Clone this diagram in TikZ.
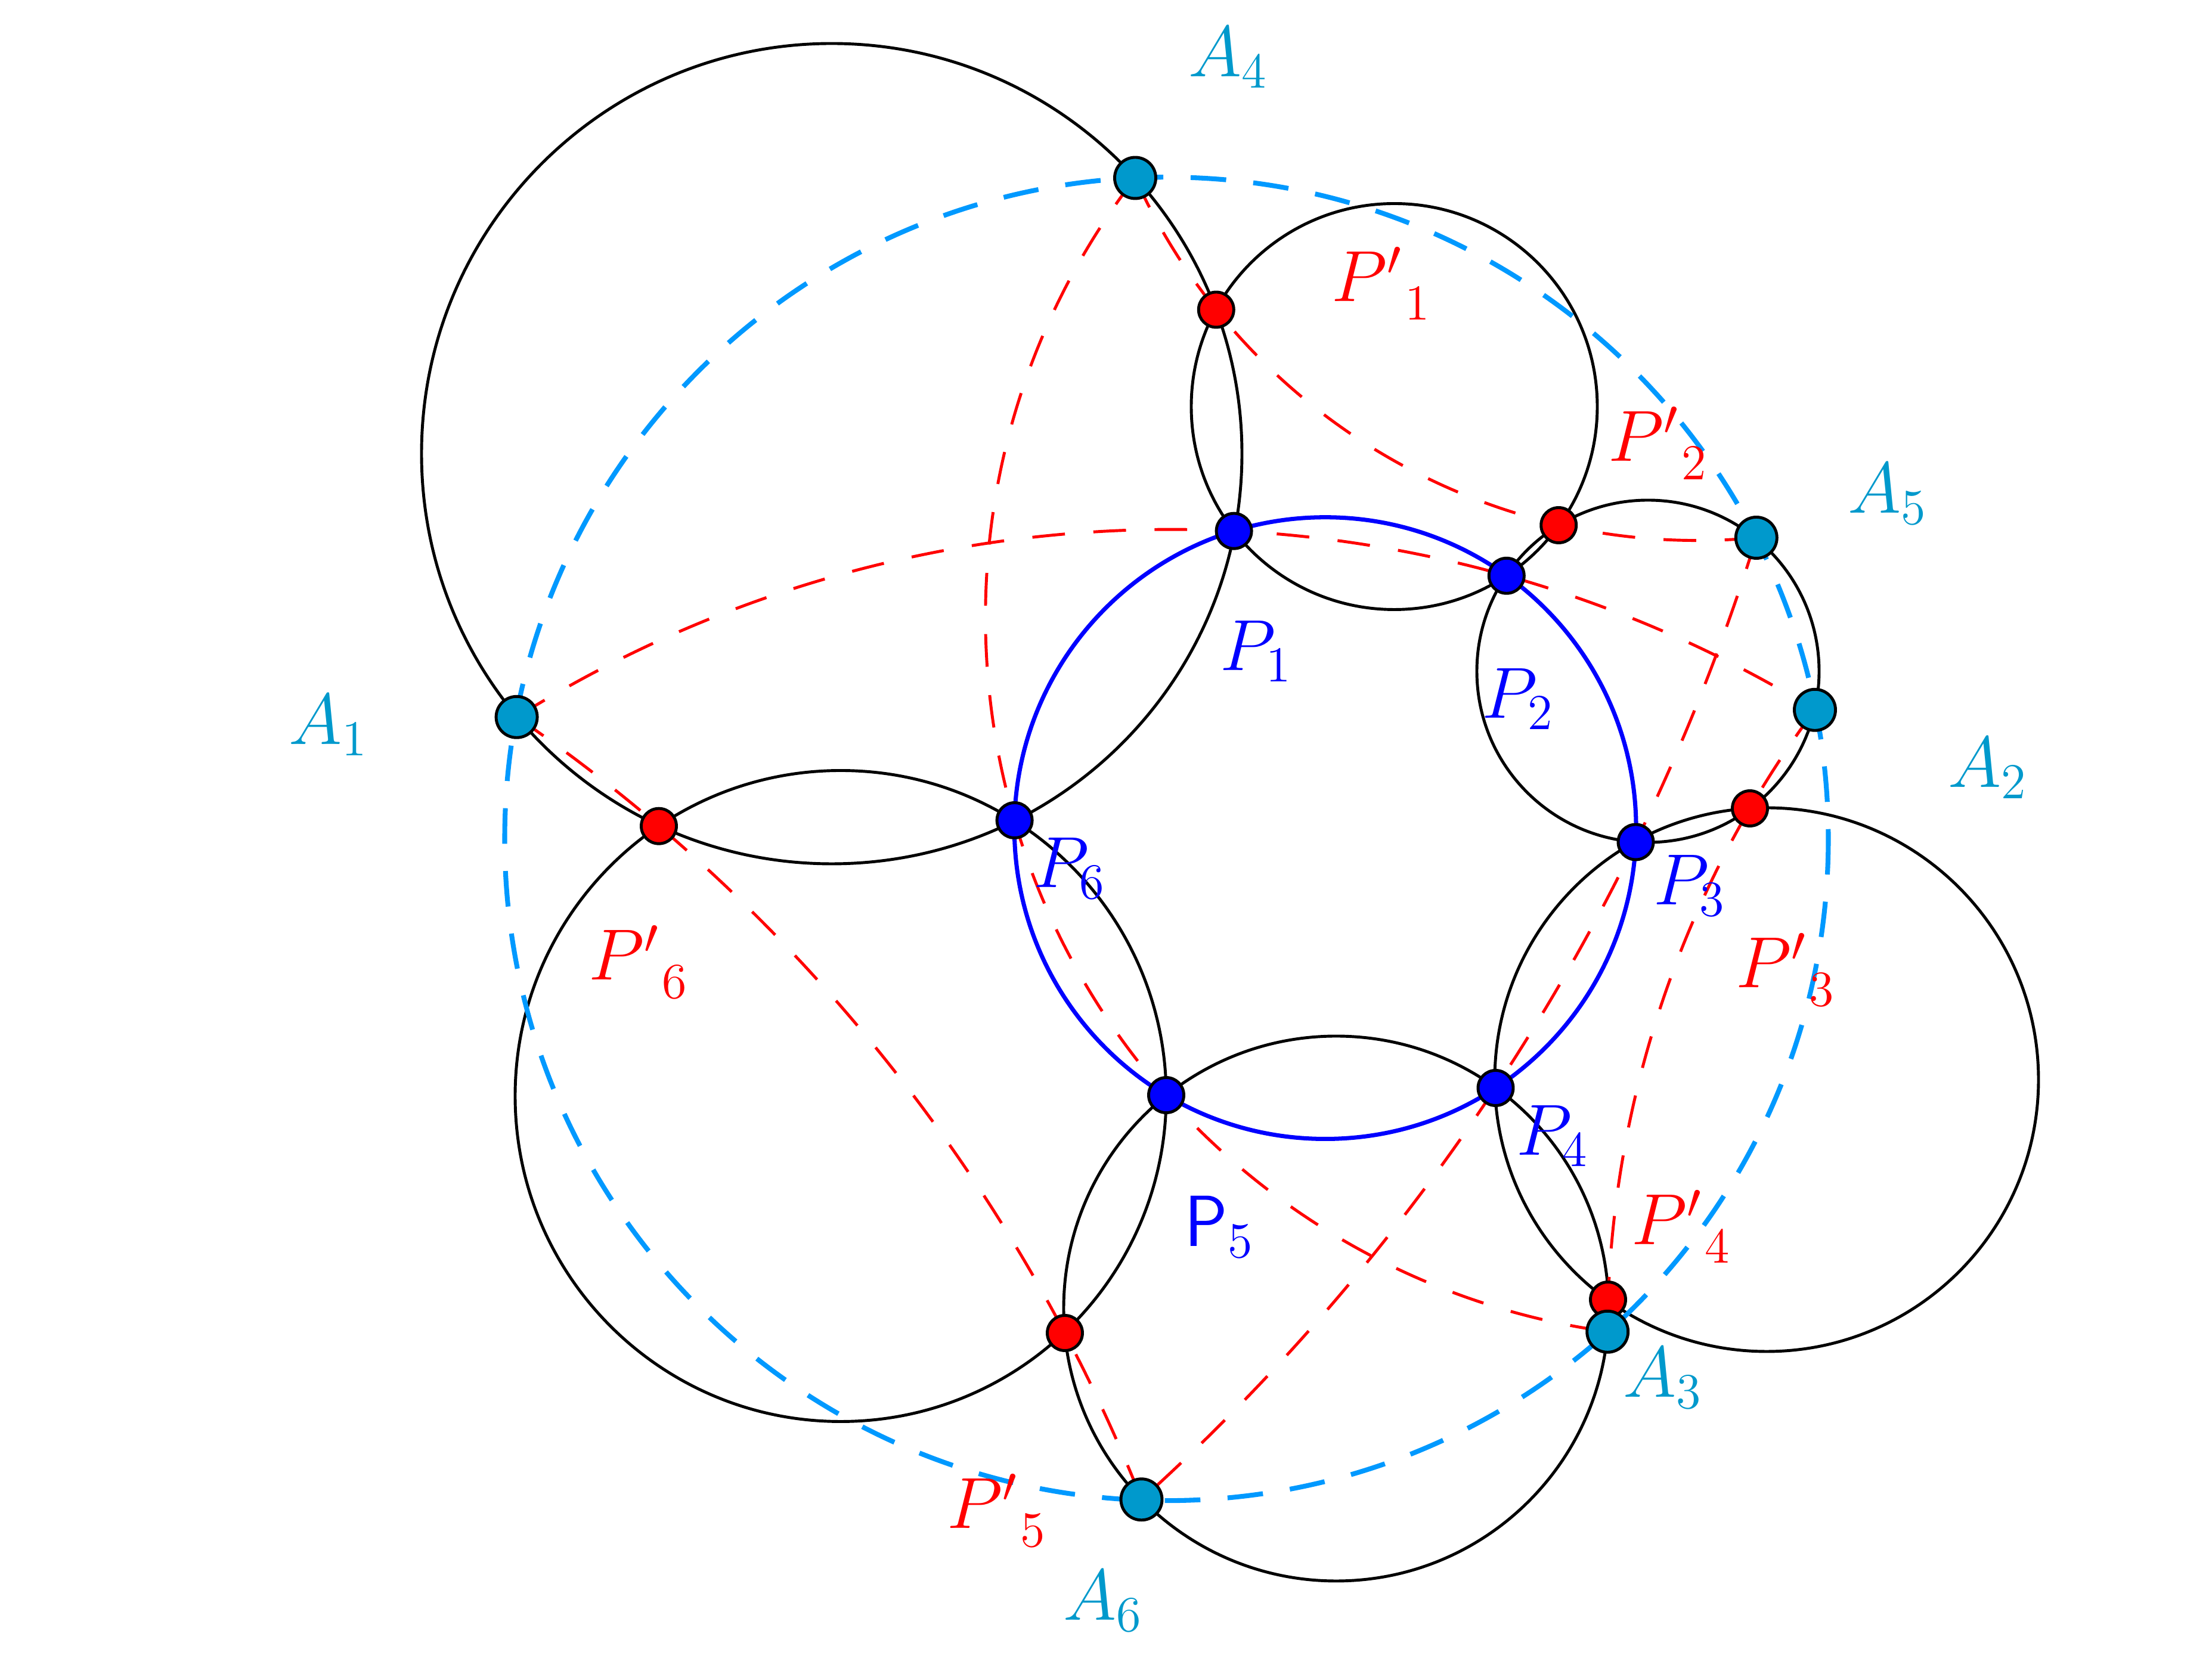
\documentclass[tikz,border=0pt]{standalone}
\definecolor{acol}{RGB}{0,153,204}
\definecolor{dashcol}{RGB}{0,153,255}
\begin{document}
\begin{tikzpicture}[yscale=-1,
    apt/.style={circle,draw,line width=0.7pt,fill=acol,inner sep=0pt,minimum size=3.45mm},
    ppt/.style={circle,draw,line width=0.7pt,fill=blue,inner sep=0pt,minimum size=2.95mm},
    qpt/.style={ppt,fill=red},
    lab/.style={anchor=base west,inner sep=0pt,font=\LARGE},
    reddash/.style={color=red,line width=0.7pt,dash pattern=on 7.8pt off 6.8pt}]
  \useasboundingbox (0,0) rectangle (18.55,14.04);
  % points
  \coordinate (A1) at (4.333,6.014);
  \coordinate (A2) at (15.22,5.954);
  \coordinate (A3) at (13.481,11.169);
  \coordinate (A4) at (9.52,1.4925);
  \coordinate (A5) at (14.729,4.51);
  \coordinate (A6) at (9.5725,12.5765);
  \coordinate (P1) at (10.348,4.4535);
  \coordinate (P2) at (12.634,4.829);
  \coordinate (P3) at (13.7175,7.0625);
  \coordinate (P4) at (12.5425,9.125);
  \coordinate (P5) at (9.78,9.185);
  \coordinate (P6) at (8.508,6.88);
  \coordinate (Q1) at (10.199,2.5975);
  \coordinate (Q2) at (13.071,4.405);
  \coordinate (Q3) at (14.675,6.78);
  \coordinate (Q4) at (13.485,10.9);
  \coordinate (Q5) at (8.93,11.18);
  \coordinate (Q6) at (5.525,6.9285);
  % circles
  \draw[line width=0.7pt] (6.975,3.805) circle(3.44) (11.6925,3.41) circle(1.7025)
    (13.82,5.63) circle(1.435) (14.815,9.055) circle(2.28)
    (11.205,10.975) circle(2.285) (7.05,9.1925) circle(2.73);
  \draw[color=blue,line width=1pt] (11.1135,6.9455) circle(2.607);
  % dashed arcs
  \draw[reddash] (A1) arc[start angle=-121.98,end angle=-58.66,radius=10.372];
  \draw[reddash] (A5) arc[start angle=17.27,end angle=47.90,radius=18.123];
  \draw[reddash] (A4) arc[start angle=217.60,end angle=97.87,radius=6.045];
  \draw[reddash] (A4) arc[start angle=155.62,end angle=84.54,radius=5.178];
  \draw[reddash] (A2) arc[start angle=216.64,end angle=180.24,radius=8.802];
  \draw[reddash] (A1) arc[start angle=-55.50,end angle=-21.72,radius=14.453];
  \draw[color=dashcol,line width=1.15pt,dash pattern=on 8.5pt off 6.5pt]
    (9.7825,7.036) circle(5.55);
  % dots
  \node[apt] (a1) at (A1) {};
  \node[apt] (a2) at (A2) {};
  \node[apt] (a4) at (A4) {};
  \node[apt] (a5) at (A5) {};
  \node[apt] (a6) at (A6) {};
  \node[ppt] (p1) at (P1) {};
  \node[ppt] (p2) at (P2) {};
  \node[ppt] (p3) at (P3) {};
  \node[ppt] (p4) at (P4) {};
  \node[ppt] (p5) at (P5) {};
  \node[ppt] (p6) at (P6) {};
  \node[qpt] (q1) at (Q1) {};
  \node[qpt] (q2) at (Q2) {};
  \node[qpt] (q3) at (Q3) {};
  \node[qpt] (q4) at (Q4) {};
  \node[qpt] (q5) at (Q5) {};
  \node[qpt] (q6) at (Q6) {};
  \node[apt] (a3) at (A3) {};
  % labels
  \node[lab,color=acol] (la1) at (2.415,6.245) {$A_1$};
  \node[lab,color=acol] (la2) at (16.33,6.605) {$A_2$};
  \node[lab,color=acol] (la3) at (13.605,11.72) {$A_3$};
  \node[lab,color=acol] (la4) at (9.96,0.645) {$A_4$};
  \node[lab,color=acol] (la5) at (15.49,4.305) {$A_5$};
  \node[lab,color=acol] (la6) at (8.91,13.59) {$A_6$};
  \node[lab,color=blue] (lp1) at (10.225,5.625) {$P_1$};
  \node[lab,color=blue] (lp2) at (12.42,6.025) {$P_2$};
  \node[lab,color=blue] (lp3) at (13.86,7.59) {$P_3$};
  \node[lab,color=blue] (lp4) at (12.71,9.69) {$P_4$};
  \node[lab,color=blue] (lp5) at (9.925,10.455) {$\mathsf{P}_5$};
  \node[lab,color=blue] (lp6) at (8.66,7.445) {$P_6$};
  \node[lab,color=red] (lq1) at (11.16,2.53) {$P'_{\hphantom{\prime}\;1}$};
  \node[lab,color=red] (lq2) at (13.48,3.87) {$P'_{\hphantom{\prime}\;2}$};
  \node[lab,color=red] (lq3) at (14.55,8.285) {$P'_{\hphantom{\prime}\;3}$};
  \node[lab,color=red] (lq4) at (13.675,10.44) {$P'_{\hphantom{\prime}\;4}$};
  \node[lab,color=red] (lq5) at (7.935,12.82) {$P'_{\hphantom{\prime}\;5}$};
  \node[lab,color=red] (lq6) at (4.93,8.22) {$P'_{\hphantom{\prime}\;6}$};
\end{tikzpicture}
\end{document}
